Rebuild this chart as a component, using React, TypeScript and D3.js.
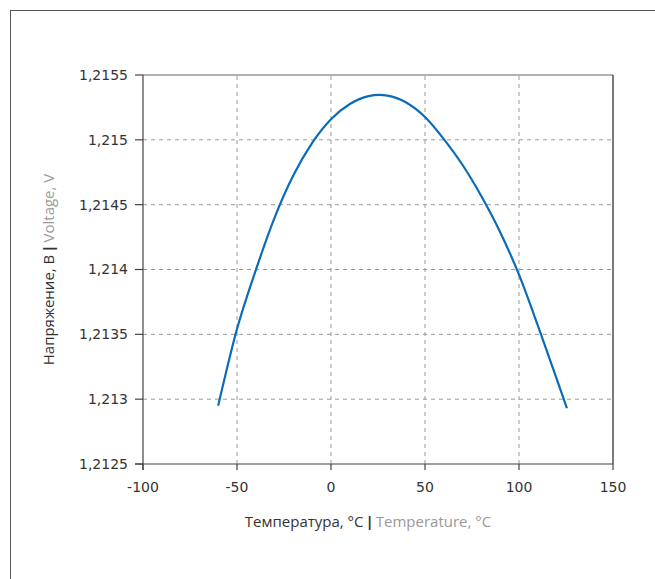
import React from 'react';
import * as d3 from 'd3';

const temperature = [-60, -50, -40, -30, -20, -10, 0, 10, 20, 25.7, 30, 40, 50, 60, 70, 80, 90, 100, 110, 120, 125.5];
const voltage = [
  1.21295, 1.213541, 1.213995, 1.2144, 1.214726, 1.214976, 1.215158, 1.215276, 1.215337, 1.215346,
  1.215341, 1.215288, 1.215176, 1.215006, 1.214806, 1.214565, 1.214288, 1.21396, 1.213569, 1.213158, 1.21293,
];
const xTicks = [-100, -50, 0, 50, 100, 150];
const yTicks = [1.2125, 1.213, 1.2135, 1.214, 1.2145, 1.215, 1.2155];

const W = 655;
const H = 579;
const margin = { left: 143, top: 75, right: 42, bottom: 115 };

const fmtY = (v: number) => String(+v.toFixed(4)).replace('.', ',');

const App = () => {
  const x = d3.scaleLinear().domain([-100, 150]).range([margin.left, W - margin.right]);
  const y = d3.scaleLinear().domain([1.2125, 1.2155]).range([H - margin.bottom, margin.top]);

  const pts = temperature.map((t, i) => [t, voltage[i]] as [number, number]);
  const line = d3
    .line<[number, number]>()
    .x((d) => x(d[0]))
    .y((d) => y(d[1]))
    .curve(d3.curveMonotoneX);

  const x0 = x.range()[0];
  const x1 = x.range()[1];
  const y0 = y.range()[0];
  const y1 = y.range()[1];
  const tickFont = '"DejaVu Sans", sans-serif';
  const titleFont = '"Open Sans", sans-serif';

  return (
    <svg width={W} height={H} style={{ position: 'absolute', left: 0, top: 0 }}>
      <rect x={10.5} y={10.5} width={800} height={800} fill="none" stroke="#555" />

      {/* grid */}
      {xTicks.slice(1, -1).map((t) => (
        <line key={'gx' + t} x1={x(t)} x2={x(t)} y1={y0} y2={y1} stroke="#999" strokeDasharray="4,4" />
      ))}
      {yTicks.slice(1, -1).map((t) => (
        <line key={'gy' + t} x1={x0} x2={x1} y1={y(t)} y2={y(t)} stroke="#999" strokeDasharray="4,4" />
      ))}

      {/* frame */}
      <line x1={x0} x2={x1} y1={y1} y2={y1} stroke="#666" strokeWidth={1.2} />
      <line x1={x1} x2={x1} y1={y1} y2={y0} stroke="#222" strokeWidth={1.2} />
      <line x1={x0} x2={x0} y1={y1} y2={y0 + 6} stroke="#444" strokeWidth={1.2} />
      <line x1={x0 - 8} x2={x1} y1={y0} y2={y0} stroke="#444" strokeWidth={1.2} />

      {/* x axis */}
      {xTicks.map((t) => (
        <g key={'xt' + t}>
          <line x1={x(t)} x2={x(t)} y1={y0} y2={y0 + 6} stroke="#444" strokeWidth={1.2} />
          <text x={x(t)} y={y0 + 28} textAnchor="middle" fontFamily={tickFont} fontSize={14} fill="#333">
            {t}
          </text>
        </g>
      ))}

      {/* y axis */}
      {yTicks.map((t) => (
        <g key={'yt' + t}>
          <line x1={x0 - 8} x2={x0} y1={y(t)} y2={y(t)} stroke="#444" strokeWidth={1.2} />
          <text x={x0 - 15} y={y(t)} dy="0.35em" textAnchor="end" fontFamily={tickFont} fontSize={14} fill="#333">
            {fmtY(t)}
          </text>
        </g>
      ))}

      <path d={line(pts) ?? ''} fill="none" stroke="#0a6cb8" strokeWidth={2.2} />

      {/* titles */}
      <text x={368} y={527} textAnchor="middle" fontFamily={titleFont} fontSize={15} fill="#333">
        <tspan>Температура, °C</tspan>
        <tspan dx={2} fontWeight="bold">|</tspan>
        <tspan dx={2} fill="#999">Temperature, °C</tspan>
      </text>
      <text
        transform={`translate(54,${(y0 + y1) / 2}) rotate(-90)`}
        textAnchor="middle"
        fontFamily={titleFont}
        fontSize={15}
        fill="#333"
      >
        <tspan>Напряжение, В</tspan>
        <tspan dx={2} fontWeight="bold">|</tspan>
        <tspan dx={2} fill="#999">Voltage, V</tspan>
      </text>
    </svg>
  );
};

export default App;
